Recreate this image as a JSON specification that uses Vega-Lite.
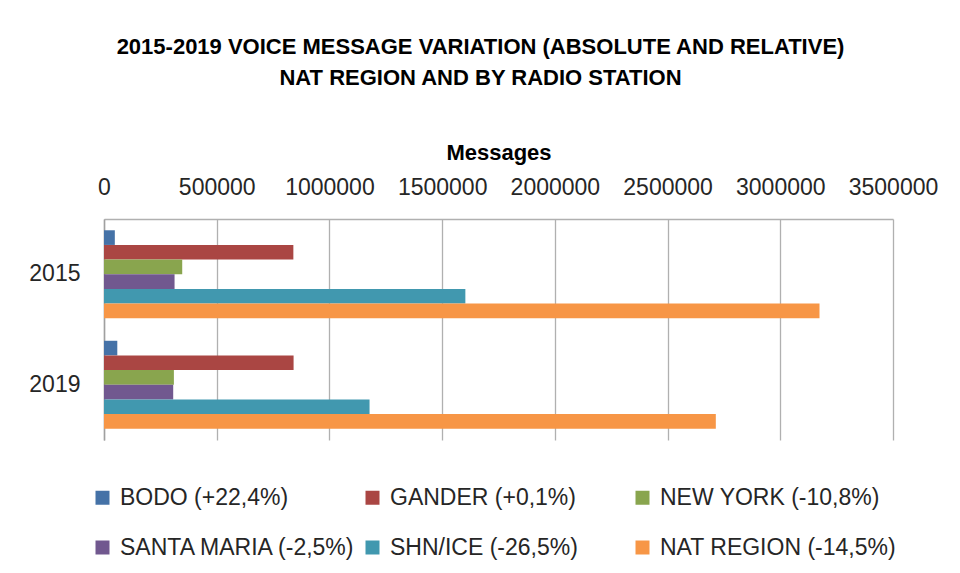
{
  "$schema": "https://vega.github.io/schema/vega-lite/v6.json",
  "width": 789,
  "height": 221,
  "autosize": "none",
  "padding": {"left": 104, "top": 219, "right": 67, "bottom": 133},
  "background": "white",
  "title": {
    "text": ["2015-2019 VOICE MESSAGE VARIATION (ABSOLUTE AND RELATIVE)", "NAT REGION AND BY RADIO STATION"],
    "font": "Liberation Sans",
    "fontSize": 22,
    "fontWeight": "bold",
    "color": "#000000",
    "anchor": "middle",
    "dx": -18,
    "offset": 51,
    "lineHeight": 31
  },
  "data": {
    "values": [
      {"year": "2015", "station": "BODO (+22,4%)", "messages": 48000},
      {"year": "2015", "station": "GANDER (+0,1%)", "messages": 840000},
      {"year": "2015", "station": "NEW YORK (-10,8%)", "messages": 347000},
      {"year": "2015", "station": "SANTA MARIA (-2,5%)", "messages": 313000},
      {"year": "2015", "station": "SHN/ICE (-26,5%)", "messages": 1603000},
      {"year": "2015", "station": "NAT REGION (-14,5%)", "messages": 3174000},
      {"year": "2019", "station": "BODO (+22,4%)", "messages": 59000},
      {"year": "2019", "station": "GANDER (+0,1%)", "messages": 841000},
      {"year": "2019", "station": "NEW YORK (-10,8%)", "messages": 310000},
      {"year": "2019", "station": "SANTA MARIA (-2,5%)", "messages": 307000},
      {"year": "2019", "station": "SHN/ICE (-26,5%)", "messages": 1178000},
      {"year": "2019", "station": "NAT REGION (-14,5%)", "messages": 2714000}
    ]
  },
  "mark": {"type": "bar"},
  "encoding": {
    "y": {
      "field": "year",
      "type": "nominal",
      "scale": {"paddingInner": 0.204, "paddingOuter": 0.102},
      "axis": {
        "title": null,
        "ticks": false,
        "labelFont": "Liberation Sans",
        "labelFontSize": 23,
        "labelColor": "#262626",
        "labelPadding": 24,
        "domainColor": "#a0a0a0",
        "domainWidth": 1.5
      }
    },
    "yOffset": {
      "field": "station",
      "type": "nominal",
      "sort": ["BODO (+22,4%)", "GANDER (+0,1%)", "NEW YORK (-10,8%)", "SANTA MARIA (-2,5%)", "SHN/ICE (-26,5%)", "NAT REGION (-14,5%)"],
      "scale": {"paddingInner": 0, "paddingOuter": 0}
    },
    "x": {
      "field": "messages",
      "type": "quantitative",
      "scale": {"domain": [0, 3500000], "nice": false},
      "axis": {
        "orient": "top",
        "values": [0, 500000, 1000000, 1500000, 2000000, 2500000, 3000000, 3500000],
        "format": "d",
        "labelOverlap": false,
        "labelFlush": false,
        "title": "Messages",
        "titleFont": "Liberation Sans",
        "titleFontSize": 22,
        "titleFontWeight": "bold",
        "titleColor": "#000000",
        "titlePadding": 12,
        "labelFont": "Liberation Sans",
        "labelFontSize": 23,
        "labelColor": "#262626",
        "labelPadding": 20,
        "ticks": false,
        "tickSize": 0,
        "grid": true,
        "gridColor": "#b0b0b0",
        "gridWidth": 1.3,
        "domainColor": "#b0b0b0",
        "domainWidth": 1.3
      }
    },
    "color": {
      "field": "station",
      "type": "nominal",
      "scale": {
        "domain": ["BODO (+22,4%)", "GANDER (+0,1%)", "NEW YORK (-10,8%)", "SANTA MARIA (-2,5%)", "SHN/ICE (-26,5%)", "NAT REGION (-14,5%)"],
        "range": ["#4572A7", "#AA4643", "#89A54E", "#71588F", "#4198AF", "#F79646"]
      },
      "legend": {
        "title": null,
        "orient": "none",
        "legendX": -13,
        "legendY": 267,
        "direction": "horizontal",
        "columns": 3,
        "gridAlign": "all",
        "columnPadding": 5,
        "rowPadding": 26,
        "symbolType": "square",
        "symbolSize": 196,
        "symbolStrokeWidth": 0,
        "labelOffset": 6,
        "labelFont": "Liberation Sans",
        "labelFontSize": 23,
        "labelColor": "#262626",
        "labelLimit": 400
      }
    }
  },
  "config": {"view": {"stroke": null}}
}
